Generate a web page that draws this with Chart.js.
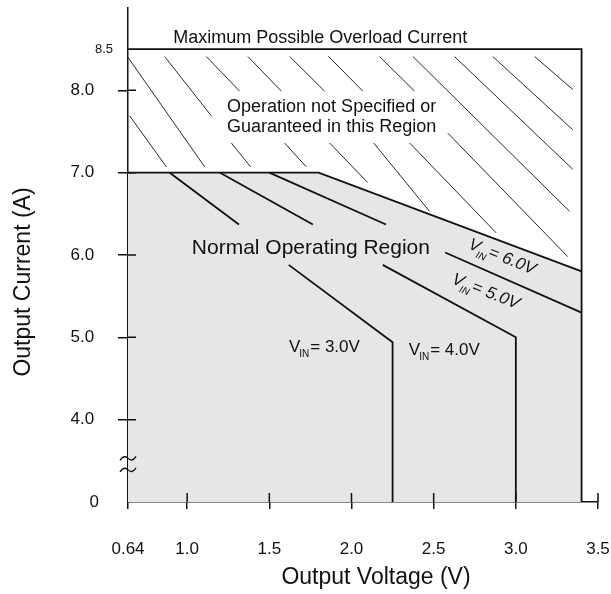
<!DOCTYPE html>
<html>
<head>
<meta charset="utf-8">
<script src="https://cdn.jsdelivr.net/npm/chart.js@4.4.1/dist/chart.umd.min.js"></script>
<style>
  body { margin: 0; background: #fff; }
  #wrap { width: 611px; height: 594px; }
</style>
</head>
<body>
<div id="wrap"><canvas id="chart" width="611" height="594"></canvas></div>
<script>
// axis ticks (current axis is broken: 0 sits where 3.0 would be)
const xTicks = [0.64, 1.0, 1.5, 2.0, 2.5, 3.0, 3.5];
const xTickLabels = ['0.64', '1.0', '1.5', '2.0', '2.5', '3.0', '3.5'];
const yTicks = [0, 4.0, 5.0, 6.0, 7.0, 8.0, 8.5];
const yTickLabels = ['0', '4.0', '5.0', '6.0', '7.0', '8.0', '8.5'];
const brokenZero = 3;

// V_IN = 6.0V is the outer limit of the normal region
const vin6V = [0.64, 1.8, 3.4];
const vin6I = [7.0, 7.0, 5.8];
// null = break in the line where a label sits
const vin5V = [1.50, 2.21, null, 2.57, 3.40];
const vin5I = [7.0, 6.37, null, 6.03, 5.30];
const vin4V = [1.20, 1.765, null, 2.19, 3.0, 3.0];
const vin4I = [7.0, 6.37, null, 5.88, 5.0, 0];
const vin3V = [0.894, 1.315, null, 1.618, 2.25, 2.25];
const vin3I = [7.0, 6.37, null, 5.88, 4.94, 0];

// overload limit box
const limitV = [0.64, 3.4, 3.4];
const limitI = [8.5, 8.5, 0];

// hatch strokes in the "not specified" region
const hatchV = [
  0.64, 1.107, null, 0.65, 0.874, null,
  0.863, 1.147, null, 1.269, 1.386, null,
  1.117, 1.319, null, 1.593, 1.725, null,
  1.370, 1.573, null, 1.867, 2.098, null,
  1.624, 1.836, null, 2.135, 2.475, null,
  1.861, 2.069, null, 2.354, 2.880, null,
  2.171, 2.384, null, 2.586, 3.316, null,
  2.374, 3.327, null,
  2.627, 3.347, null,
  2.860, 3.347, null,
  3.114, 3.347
];
const hatchI = [
  8.40, 7.07, null, 7.69, 7.07, null,
  8.41, 7.69, null, 7.36, 7.07, null,
  8.41, 7.99, null, 7.36, 7.07, null,
  8.41, 7.99, null, 7.36, 6.88, null,
  8.41, 7.99, null, 7.36, 6.53, null,
  8.41, 7.99, null, 7.36, 6.27, null,
  8.41, 7.99, null, 7.48, 5.98, null,
  8.41, 6.53, null,
  8.41, 7.04, null,
  8.41, 7.52, null,
  8.41, 8.01
];

const FONT = '"Liberation Sans", Arial, Helvetica, sans-serif';
const INK = '#111';

function shown(v) {
  if (v === null) return null;
  return v === 0 ? brokenZero : v;
}

function pts(vs, is) {
  return vs.map((v, k) => ({ x: v === null ? vs[k - 1] : v, y: shown(is[k]) }));
}

function lineSet(vs, is, width, extra) {
  return Object.assign({
    data: pts(vs, is),
    showLine: true,
    borderColor: INK,
    borderWidth: width,
    pointRadius: 0,
    fill: false,
    spanGaps: false,
    tension: 0
  }, extra || {});
}

// draws "VIN= x.xV" with subscript, centred on (cx, cy)
function drawVin(ctx, text, cx, cy, angle, italic, size) {
  const style = italic ? 'italic ' : '';
  const big = style + size + 'px ' + FONT;
  const small = style + Math.round(size * 0.58) + 'px ' + FONT;
  ctx.save();
  ctx.translate(cx, cy);
  ctx.rotate(angle);
  ctx.fillStyle = INK;
  ctx.textBaseline = 'alphabetic';
  ctx.textAlign = 'left';
  ctx.font = big;
  const wV = ctx.measureText('V').width;
  const wRest = ctx.measureText(text).width;
  ctx.font = small;
  const wSub = ctx.measureText('IN').width;
  let x = -(wV + wSub + wRest) / 2;
  const base = size * 0.36;
  ctx.font = big;
  ctx.fillText('V', x, base);
  x += wV - 1;
  ctx.font = small;
  ctx.fillText('IN', x, base + size * 0.32);
  x += wSub + 1;
  ctx.font = big;
  ctx.fillText(text, x, base);
  ctx.restore();
}

const notes = {
  id: 'notes',
  afterDatasetsDraw(chart) {
    const { ctx, scales: { x, y } } = chart;
    ctx.save();
    ctx.fillStyle = INK;
    ctx.textAlign = 'center';
    ctx.textBaseline = 'middle';
    ctx.font = '18px ' + FONT;
    ctx.fillText('Maximum Possible Overload Current', x.getPixelForValue(1.81), y.getPixelForValue(8.63));
    ctx.fillText('Operation not Specified or', x.getPixelForValue(1.879), y.getPixelForValue(7.80));
    ctx.fillText('Guaranteed in this Region', x.getPixelForValue(1.879), y.getPixelForValue(7.56));
    ctx.font = '21px ' + FONT;
    ctx.fillText('Normal Operating Region', x.getPixelForValue(1.753), y.getPixelForValue(6.08));

    // axis titles
    ctx.font = '23px ' + FONT;
    ctx.fillText('Output Voltage (V)', 376, 578);
    ctx.translate(24, 282);
    ctx.rotate(-Math.PI / 2);
    ctx.fillText('Output Current (A)', 0, 0);
    ctx.restore();

    // slanted labels follow the V_IN = 6.0V limit line
    const dx = x.getPixelForValue(vin6V[2]) - x.getPixelForValue(vin6V[1]);
    const dy = y.getPixelForValue(vin6I[2]) - y.getPixelForValue(vin6I[1]);
    const ang = Math.atan2(dy, dx) + 0.02;
    drawVin(ctx, '= 6.0V', x.getPixelForValue(2.92), y.getPixelForValue(5.99), ang, true, 17);
    drawVin(ctx, '= 5.0V', x.getPixelForValue(2.82), y.getPixelForValue(5.57), ang, true, 17);
    drawVin(ctx, '= 3.0V', x.getPixelForValue(1.835), y.getPixelForValue(4.90), 0, false, 17);
    drawVin(ctx, '= 4.0V', x.getPixelForValue(2.565), y.getPixelForValue(4.86), 0, false, 17);
  },
  afterDraw(chart) {
    const { ctx, scales: { x, y } } = chart;
    ctx.save();
    ctx.strokeStyle = INK;
    ctx.lineWidth = 1.5;
    // tick marks also reach inside the axes
    const left = x.getPixelForValue(xTicks[0]);
    const bottom = y.getPixelForValue(brokenZero);
    ctx.beginPath();
    yTicks.slice(1, 6).forEach(v => {
      const py = y.getPixelForValue(v);
      ctx.moveTo(left, py);
      ctx.lineTo(left + 8, py);
    });
    xTicks.slice(1).forEach(v => {
      const px = x.getPixelForValue(v);
      ctx.moveTo(px, bottom);
      ctx.lineTo(px, bottom - 9);
    });
    ctx.stroke();
    // axis break mark
    ctx.lineWidth = 1.3;
    [3.53, 3.39].forEach(v => {
      const py = y.getPixelForValue(v);
      ctx.beginPath();
      ctx.moveTo(left - 8, py + 2);
      ctx.bezierCurveTo(left - 4, py - 4, left - 1, py - 1, left, py);
      ctx.bezierCurveTo(left + 2, py + 2, left + 5, py + 3, left + 8, py - 2);
      ctx.stroke();
    });
    ctx.restore();
  }
};

Chart.defaults.font.family = FONT;
Chart.defaults.color = INK;

new Chart(document.getElementById('chart'), {
  type: 'scatter',
  data: {
    datasets: [
      // grey normal operating region
      lineSet(vin6V, vin6I, 0, { fill: 'start', backgroundColor: '#e6e6e6', order: 10 }),
      lineSet(hatchV, hatchI, 0.9, { order: 5 }),
      lineSet(limitV, limitI, 1.8, { order: 1 }),
      lineSet(vin6V, vin6I, 1.8, { order: 1 }),
      lineSet(vin5V, vin5I, 1.8, { order: 1 }),
      lineSet(vin4V, vin4I, 1.8, { order: 1 }),
      lineSet(vin3V, vin3I, 1.8, { order: 1 })
    ]
  },
  options: {
    responsive: false,
    devicePixelRatio: 1,
    animation: false,
    layout: { padding: { top: 8, right: 13, left: 0, bottom: 0 } },
    plugins: { legend: { display: false }, tooltip: { enabled: false } },
    scales: {
      x: {
        type: 'linear',
        min: 0.64,
        max: 3.5,
        afterBuildTicks: s => { s.ticks = xTicks.map(v => ({ value: v })); },
        afterFit: s => { s.height = 92; s.paddingLeft = 0; s.paddingRight = 0; },
        border: { display: true, color: INK, width: 1.5 },
        grid: { drawOnChartArea: false, drawTicks: true, tickLength: 7, color: INK, lineWidth: 1.5 },
        ticks: {
          autoSkip: false,
          maxRotation: 0,
          padding: 30,
          font: { size: 17 },
          color: INK,
          callback: (val, k) => xTickLabels[k]
        }
      },
      y: {
        type: 'linear',
        min: brokenZero,
        max: 9.0,
        afterBuildTicks: s => { s.ticks = yTicks.map(v => ({ value: shown(v) })); },
        afterFit: s => { s.width = 128; s.paddingTop = 0; s.paddingBottom = 0; },
        border: { display: true, color: INK, width: 1.5 },
        grid: {
          drawOnChartArea: false,
          drawTicks: true,
          tickLength: 10,
          lineWidth: 1.5,
          color: c => (c.tick && (c.tick.value === brokenZero || c.tick.value === 8.5)) ? 'rgba(0,0,0,0)' : INK
        },
        ticks: {
          autoSkip: false,
          padding: 5,
          color: INK,
          font: c => ({ size: c.tick && c.tick.value === 8.5 ? 13 : 17 }),
          callback: (val, k) => {
            const lab = yTickLabels[k];
            if (lab === '8.5') return lab;
            if (lab === '0') return lab + '   ';
            return lab + '    ';
          }
        }
      }
    }
  },
  plugins: [notes]
});
</script>
</body>
</html>
